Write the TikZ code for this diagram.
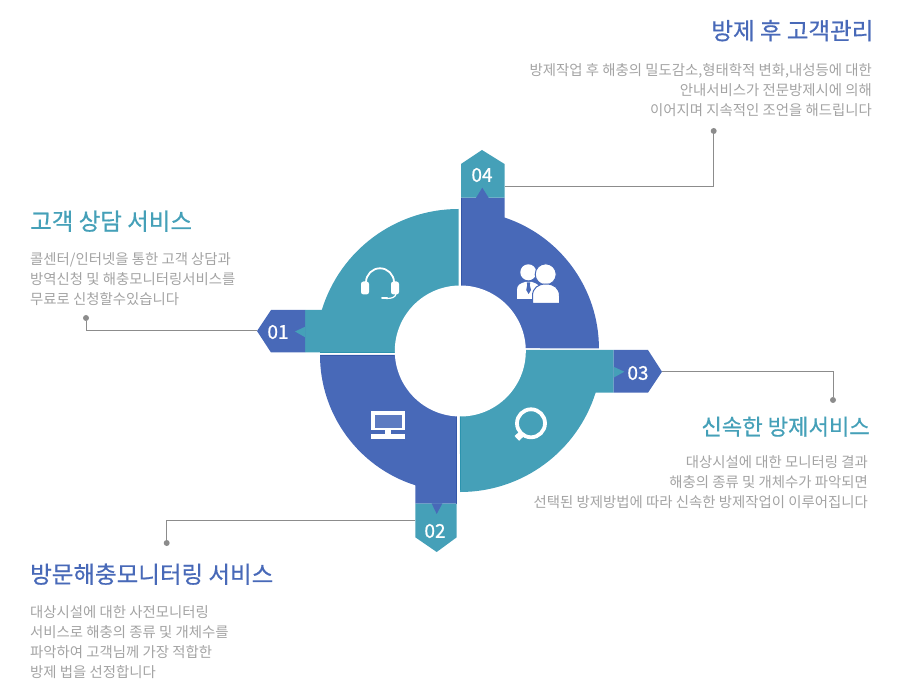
\documentclass[tikz,border=0pt]{standalone}
\usepackage{fontspec}
\setmainfont{Noto Sans CJK KR}
\newfontfamily\headfont[FakeBold=0.6]{Noto Sans CJK KR}
\newfontfamily\numfont[FakeBold=0.8]{Noto Sans CJK KR}
\definecolor{qblue}{HTML}{4869B8}
\definecolor{qteal}{HTML}{45A0B8}
\definecolor{qblueedge}{HTML}{3457A8}
\definecolor{qtealedge}{HTML}{2C93AE}
\definecolor{qbody}{HTML}{A3A3A3}
\definecolor{qline}{HTML}{8C8C8C}
\tikzset{
  heading/.style={inner sep=0pt,font=\fontsize{23.5}{26}\headfont},
  headingsmall/.style={inner sep=0pt,font=\fontsize{22.2}{26}\headfont},
  bodytext/.style={inner sep=0pt,text=qbody,font=\fontsize{14.4}{20}\selectfont},
  badgenum/.style={inner sep=0pt,text=white,font=\fontsize{19}{20}\numfont},
  leader/.style={draw=qline,line width=1pt},
  leaderdot/.style={circle,fill=qline,inner sep=0pt,minimum size=6pt},
}
\begin{document}
\begin{tikzpicture}[x=1pt,y=1pt,yscale=-1]
\useasboundingbox (0,0) rectangle (919,700);
% quadrants
\fill[qteal] (458.5,209) arc (270:197.08:143) -- (305,310) -- (305,352.5) -- (458.5,352.5) -- cycle;
\fill[qblue] (461,197.7) -- (504.5,197.7) -- (504.5,217.5) arc (-71.6:0:138) -- (461,348) -- cycle;
\fill[qteal] (459.5,350) -- (613.7,350) -- (613.7,392.7) -- (595.6,392.7) arc (17.5:90:142) -- cycle;
\fill[qblue] (320,355) arc (180:107.63:136.7) -- (415.3,503.7) -- (456.7,503.7) -- (456.7,355) -- cycle;
% darker seams
\draw[qtealedge,line width=.8pt] (320,352.2) -- (400,352.2);
\draw[qblueedge,line width=.8pt] (320,355.4) -- (400,355.4);
\draw[qblueedge,line width=.8pt] (461.4,198) -- (461.4,290);
\draw[qblueedge,line width=.8pt] (456.3,412) -- (456.3,503.7);
\draw[qtealedge,line width=.8pt] (459.9,412) -- (459.9,490);
% badges
\fill[qblue] (305,310) -- (271,310) -- (257,331) -- (271,352.5) -- (305,352.5) -- cycle;
\fill[qteal] (305.2,326.7) -- (295,331.5) -- (305.2,337.3) -- cycle;
\fill[qteal] (415.3,503.7) -- (415.3,537.3) -- (436.7,552) -- (456.7,537.3) -- (456.7,503.7) -- cycle;
\fill[qblue] (431.7,503.5) -- (436.7,514) -- (442.3,503.5) -- cycle;
\fill[qblue] (613.7,350) -- (648,350) -- (662,371.7) -- (648,392.7) -- (613.7,392.7) -- cycle;
\fill[qteal] (613.5,366.7) -- (624.3,371.7) -- (613.5,377.7) -- cycle;
\fill[qteal] (461,197.7) -- (461,164) -- (482,150) -- (504.5,164) -- (504.5,197.7) -- cycle;
\fill[qblue] (476,197.9) -- (482.3,187.7) -- (488.7,197.9) -- cycle;
% hub
\fill[white] (460.3,351) circle (65.5);
% badge labels
\node[badgenum] (n01) at (278,332) {01};
\node[badgenum] (n02) at (435,531) {02};
\node[badgenum] (n03) at (638,373) {03};
\node[badgenum] (n04) at (482,175) {04};
% leaders
\coordinate (a01) at (257,330.6);
\coordinate (a02) at (415.3,520.6);
\coordinate (a03) at (662,371.3);
\coordinate (a04) at (504.5,186.3);
\node[leaderdot] (d01) at (86,318) {};
\node[leaderdot] (d02) at (166.7,543) {};
\node[leaderdot] (d03) at (833,400) {};
\node[leaderdot] (d04) at (713.7,131) {};
\draw[leader] (a01) -| (d01);
\draw[leader] (a02) -| (d02);
\draw[leader] (a03) -| (d03);
\draw[leader] (a04) -| (d04);
% headset
\draw[white,line width=1.8pt] (366,282.3) arc (180:360:14);
\fill[white,rounded corners=2.5pt] (361,281.5) rectangle (369,294.5);
\fill[white,rounded corners=2.5pt] (391,281.5) rectangle (399,294.5);
\draw[white,line width=1.2pt] (396,294) .. controls (395,297.5) and (392,298.5) .. (386,298.5);
\draw[white,line width=2pt,line cap=round] (382,298.5) -- (387,298.5);
% people
\fill[white] (528.3,272.3) circle (8);
\fill[white] (517,299) -- (517,290) .. controls (517,285) and (520,283.5) .. (525,282) -- (532,282) .. controls (535,283) and (537,284) .. (538,285) -- (534,299) -- cycle;
\fill[qblue] (526.8,282.5) -- (530.2,282.5) -- (529.8,285) -- (531,290) -- (528.6,294) -- (526.2,290) -- (527.2,285) -- cycle;
\fill[white,draw=qblue,line width=1pt] (545.7,274.3) circle (10.5);
\fill[white,draw=qblue,line width=1pt] (532.5,303.5) -- (532.5,296) .. controls (532.5,288) and (538,284) .. (546,284) .. controls (554,284) and (559.5,288) .. (559.5,296) -- (559.5,303.5) -- cycle;
% magnifier
\draw[white,line width=3.8pt] (531,423.3) circle (14);
\draw[white,line width=6.5pt] (521.5,434) -- (516.8,438.4);
% monitor
\fill[white] (371,411) rectangle (405,430.3);
\fill[qblue!88!white] (375,415) rectangle (401.5,428.5);
\fill[white] (385,430) rectangle (390.7,435);
\fill[white] (371,434.3) rectangle (405,439.3);
% texts
\node[heading,text=qblue,anchor=base east] (t4) at (873.5,39.5) {방제 후 고객관리};
\node[bodytext,align=right,anchor=north east] (b4) at (872,63) {방제작업 후 해충의 밀도감소,형태학적 변화,내성등에 대한\\안내서비스가 전문방제시에 의해\\이어지며 지속적인 조언을 해드립니다};
\node[heading,text=qteal,anchor=base west] (t1) at (30,230) {고객 상담 서비스};
\node[bodytext,align=left,anchor=north west] (b1) at (30,252) {콜센터/인터넷을 통한 고객 상담과\\방역신청 및 해충모니터링서비스를\\무료로 신청할수있습니다};
\node[headingsmall,text=qteal,anchor=base east] (t3) at (870,435) {신속한 방제서비스};
\node[bodytext,align=right,anchor=north east] (b3) at (868,455) {대상시설에 대한 모니터링 결과\\해충의 종류 및 개체수가 파악되면\\선택된 방제방법에 따라 신속한 방제작업이 이루어집니다};
\node[heading,text=qblue,anchor=base west] (t2) at (30,583) {방문해충모니터링 서비스};
\node[bodytext,align=left,anchor=north west] (b2) at (30,605) {대상시설에 대한 사전모니터링\\서비스로 해충의 종류 및 개체수를\\파악하여 고객님께 가장 적합한\\방제 법을 선정합니다};
\end{tikzpicture}
\end{document}
